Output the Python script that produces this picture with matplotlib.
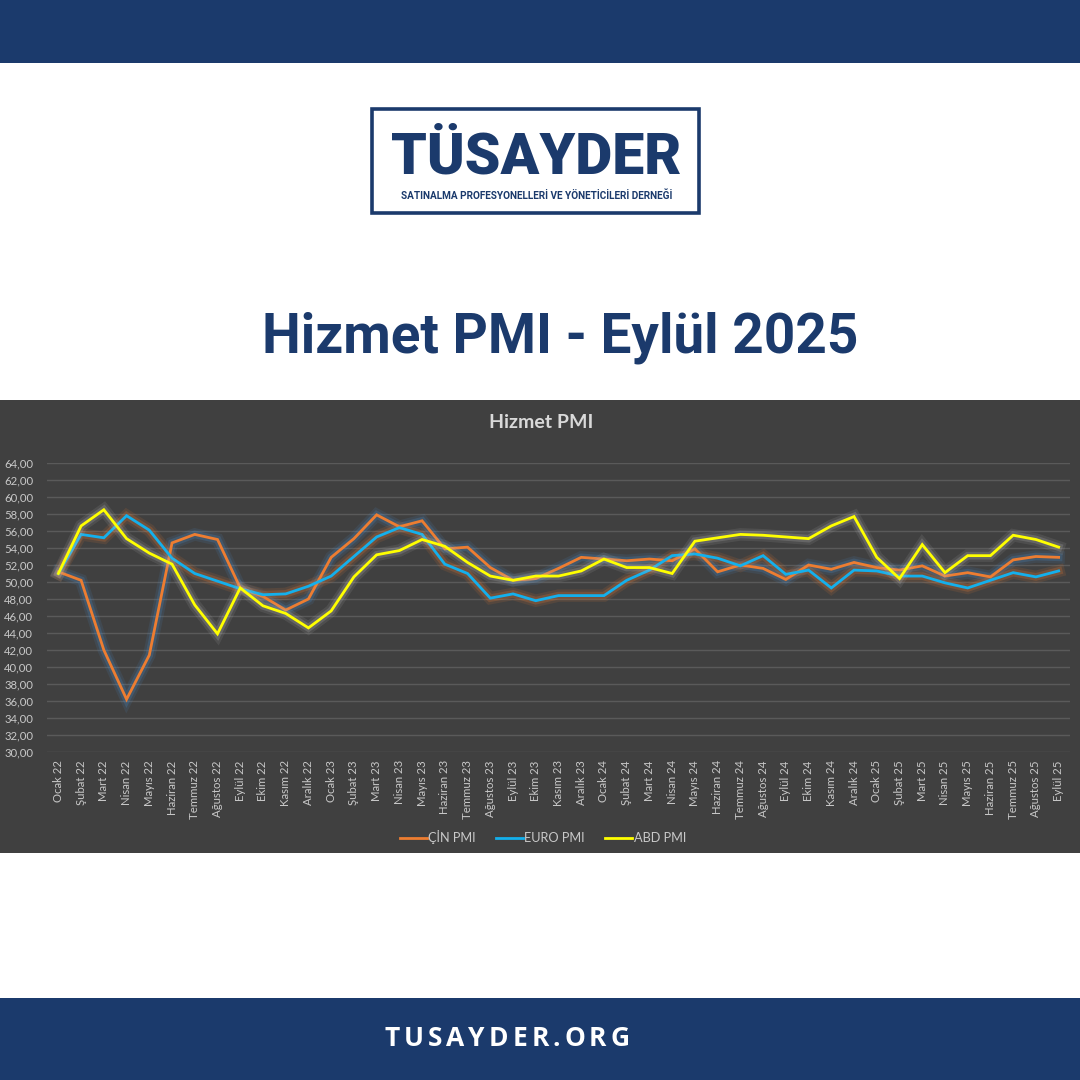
import matplotlib
matplotlib.use("Agg")
import matplotlib.pyplot as plt
import matplotlib.patheffects as pe
from matplotlib.patches import Rectangle
from matplotlib.lines import Line2D

# data
months = ["Ocak", "Şubat", "Mart", "Nisan", "Mayıs", "Haziran",
          "Temmuz", "Ağustos", "Eylül", "Ekim", "Kasım", "Aralık"]
years = ["22", "23", "24", "25"]
labels = [m + " " + y for y in years for m in months][:45]

cin_pmi = [51.2, 50.2, 42.0, 36.2, 41.4, 54.6, 55.6, 55.0, 49.3, 48.3, 46.7, 48.0,
           52.9, 55.1, 57.9, 56.5, 57.2, 53.9, 54.1, 51.7, 50.2, 50.4, 51.6, 52.9,
           52.7, 52.5, 52.7, 52.5, 53.9, 51.2, 52.0, 51.6, 50.3, 52.0, 51.5, 52.3,
           51.7, 51.4, 51.9, 50.7, 51.1, 50.6, 52.6, 53.0, 52.9]
euro_pmi = [51.0, 55.6, 55.2, 57.8, 56.1, 52.8, 51.0, 50.1, 49.2, 48.5, 48.6, 49.5,
            50.7, 53.0, 55.3, 56.4, 55.6, 52.1, 51.0, 48.1, 48.6, 47.8, 48.4, 48.4,
            48.4, 50.2, 51.4, 53.1, 53.3, 52.8, 51.9, 53.1, 50.9, 51.4, 49.3, 51.4,
            51.3, 50.7, 50.7, 49.9, 49.3, 50.2, 51.1, 50.6, 51.3]
abd_pmi = [51.0, 56.6, 58.5, 55.1, 53.4, 52.1, 47.3, 43.9, 49.3, 47.2, 46.3, 44.6,
           46.6, 50.6, 53.2, 53.7, 55.0, 54.2, 52.3, 50.7, 50.2, 50.7, 50.7, 51.3,
           52.7, 51.7, 51.7, 51.0, 54.8, 55.2, 55.6, 55.5, 55.3, 55.1, 56.6, 57.7,
           52.9, 50.4, 54.4, 51.1, 53.1, 53.1, 55.5, 55.0, 54.1]
y_ticks = [30, 32, 34, 36, 38, 40, 42, 44, 46, 48, 50, 52, 54, 56, 58, 60, 62, 64]

NAVY = "#1b3a6c"
PANEL = "#404040"
GRID = "#5a5a5a"
TICK = "#c8c8c8"

W = H = 1080


def fy(py):
    # pixel y from top -> figure fraction
    return 1 - py / H


def add_rect(x0, y_top, w, h, **kw):
    fig.patches.append(Rectangle((x0 / W, fy(y_top + h)), w / W, h / H,
                                 transform=fig.transFigure, zorder=-1, **kw))


fig = plt.figure(figsize=(10.8, 10.8), dpi=100)
fig.patch.set_facecolor("white")

# top and bottom bands
add_rect(0, 0, W, 63, facecolor=NAVY, edgecolor="none")
add_rect(0, 998, W, 82, facecolor=NAVY, edgecolor="none")

# logo box
add_rect(372, 109, 327, 104, facecolor="white", edgecolor=NAVY, linewidth=2.6)
fig.text(536 / W, fy(158), "TÜSAYDER", ha="center", va="center", color=NAVY,
         fontsize=41, fontweight="black", family="Roboto")
fig.text(537 / W, fy(196), "SATINALMA PROFESYONELLERİ VE YÖNETİCİLERİ DERNEĞİ",
         ha="center", va="center", color=NAVY, fontsize=7.2, fontweight="bold",
         family="Roboto")

# main title
fig.text(560 / W, fy(338), "Hizmet PMI - Eylül 2025", ha="center", va="center",
         color=NAVY, fontsize=39.5, fontweight="bold", family="Roboto")

# chart panel
add_rect(0, 400, W, 453, facecolor=PANEL, edgecolor="none")
fig.text(541 / W, fy(422), "Hizmet PMI", ha="center", va="center", color="#d9d9d9",
         fontsize=14, fontweight="bold", family="Lato")

ax = fig.add_axes([47 / W, fy(752), 1023 / W, 289 / H])
ax.set_facecolor(PANEL)
x = list(range(len(labels)))

series = [
    ("ÇİN PMI", cin_pmi, "#ed7d31", "#4a8fd0"),
    ("EURO PMI", euro_pmi, "#14b0ec", "#ed7d31"),
    ("ABD PMI", abd_pmi, "#ffff00", "#bbbbbb"),
]
handles = []
for name, vals, col, glow in series:
    ax.plot(x, vals, color=col, linewidth=2.0, solid_joinstyle="miter",
            path_effects=[pe.Stroke(linewidth=9, foreground=glow, alpha=0.12),
                          pe.Stroke(linewidth=5.5, foreground=glow, alpha=0.22),
                          pe.Normal()])
    handles.append(Line2D([], [], color=col, linewidth=2.0, label=name))

ax.set_xlim(-0.5, len(labels) - 0.5)
ax.set_ylim(30, 64)
ax.set_yticks(y_ticks)
ax.set_yticklabels([f"{v:.2f}".replace(".", ",") for v in y_ticks])
ax.set_xticks(x)
ax.set_xticklabels(labels, rotation=90)
ax.grid(axis="y", color=GRID, linewidth=1.0)
ax.set_axisbelow(True)
for s in ax.spines.values():
    s.set_visible(False)
ax.tick_params(axis="both", length=0, colors=TICK, labelsize=8.2)
ax.tick_params(axis="y", pad=10)
ax.tick_params(axis="x", pad=6)
for t in ax.get_xticklabels() + ax.get_yticklabels():
    t.set_family("Lato")

leg = fig.legend(handles=handles, loc="center", bbox_to_anchor=(543 / W, fy(837)),
                 ncol=3, frameon=False, handlelength=2.1, columnspacing=1.6,
                 handletextpad=0.1, prop={"family": "Lato", "size": 9.2})
for t in leg.get_texts():
    t.set_color(TICK)

# footer with letter spacing
fig.canvas.draw()
renderer = fig.canvas.get_renderer()
footer = "TUSAYDER.ORG"
spacing = 4.0
widths = []
for ch in footer:
    t = fig.text(0, 0, ch, fontsize=19, fontweight="bold", family="Open Sans")
    widths.append(t.get_window_extent(renderer).width)
    t.remove()
total = sum(widths) + spacing * (len(footer) - 1)
cx = 507 - total / 2
for ch, w in zip(footer, widths):
    fig.text(cx / W, fy(1039), ch, ha="left", va="center", color="white",
             fontsize=19, fontweight="bold", family="Open Sans")
    cx += w + spacing

fig.savefig("out.png", dpi=100, facecolor=fig.get_facecolor())
